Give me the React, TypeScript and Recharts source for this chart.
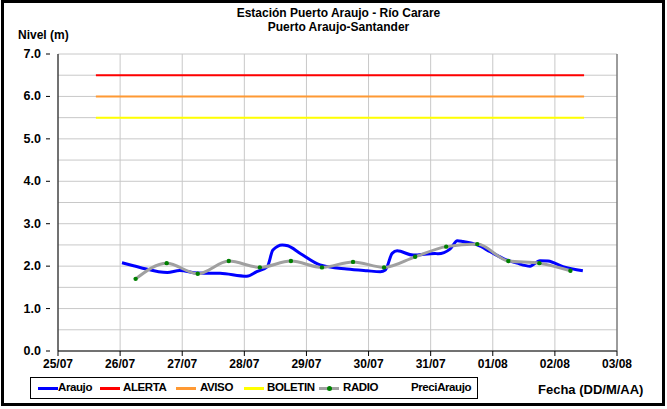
import { LineChart, Line, XAxis, YAxis, CartesianGrid } from 'recharts'

// x values are days counted from 25/07 00:00
const dayLabels = ['25/07', '26/07', '27/07', '28/07', '29/07', '30/07', '31/07', '01/08', '02/08', '03/08']
const levelTicks = [0, 0.5, 1, 1.5, 2, 2.5, 3, 3.5, 4, 4.5, 5, 5.5, 6, 6.5, 7]

const araujoDays = [
  1.03, 1.32, 1.76, 1.96, 2.24, 2.61, 3.04, 3.2, 3.37, 3.46, 3.61, 3.7, 3.9, 4.22, 4.65, 4.98,
  5.19, 5.27, 5.38, 5.46, 5.72, 6.07, 6.12, 6.31, 6.43, 6.52, 6.75, 6.96, 7.17, 7.39, 7.6, 7.76,
  7.89, 8.13, 8.45,
]
const araujoLevels = [
  2.08, 1.97, 1.85, 1.9, 1.84, 1.83, 1.76, 1.87, 1.99, 2.38, 2.5, 2.48, 2.3, 2.03, 1.93, 1.89,
  1.87, 1.91, 2.3, 2.36, 2.26, 2.3, 2.29, 2.4, 2.6, 2.58, 2.5, 2.34, 2.18, 2.07, 2.0, 2.13,
  2.12, 1.99, 1.89,
]

const radioDays = [1.25, 1.75, 2.25, 2.75, 3.25, 3.75, 4.25, 4.75, 5.25, 5.75, 6.25, 6.75, 7.25, 7.75, 8.25]
const radioLevels = [1.7, 2.07, 1.82, 2.12, 1.97, 2.12, 1.97, 2.1, 1.97, 2.22, 2.46, 2.52, 2.12, 2.07, 1.89]

const thresholdNames = ['ALERTA', 'AVISO', 'BOLETIN']
const thresholdLevels = [6.5, 6.0, 5.5]
const thresholdColors = ['#ff0000', '#ff9933', '#ffff00']
const thresholdSpan = [0.61, 8.47]

const araujoData = araujoDays.map((x, i) => ({ x, y: araujoLevels[i] }))
const radioData = radioDays.map((x, i) => ({ x, y: radioLevels[i] }))

const font = '"Liberation Sans", Arial, sans-serif'

function LevelTick(props: any) {
  const { x, y, payload } = props
  if (payload.value % 1 !== 0) return <g />
  return (
    <g>
      <line x1={x - 4} x2={x} y1={y} y2={y} stroke="#000" />
      <text x={x - 9} y={y + 4} textAnchor="end" fontSize={12.5} fontWeight="bold" fontFamily={font} fill="#000">
        {payload.value.toFixed(1)}
      </text>
    </g>
  )
}

function LegendBox() {
  const items = [
    { name: 'Araujo', color: '#0000ff', line: 38, text: 58 },
    { name: thresholdNames[0], color: thresholdColors[0], line: 100, text: 123 },
    { name: thresholdNames[1], color: thresholdColors[1], line: 176, text: 200 },
    { name: thresholdNames[2], color: thresholdColors[2], line: 244, text: 267 },
    { name: 'RADIO', color: '#a0a0a0', line: 319, text: 343, dot: true },
    { name: 'PreciAraujo', color: 'none', line: 0, text: 411 },
  ]
  return (
    <div style={{ position: 'absolute', left: 30, top: 377, width: 448, height: 22, border: '1px solid #000', boxSizing: 'border-box', background: '#fff' }}>
      {items.map((it) => (
        <div key={it.name}>
          {it.color !== 'none' && (
            <div style={{ position: 'absolute', left: it.line - 31, top: 9, width: 20, height: 3, background: it.color }} />
          )}
          {it.dot && (
            <div style={{ position: 'absolute', left: it.line - 31 + 8, top: 8, width: 5, height: 5, borderRadius: 3, background: '#008000' }} />
          )}
          <div style={{ position: 'absolute', left: it.text - 31, top: 3, fontSize: 11.5, fontWeight: 'bold', fontFamily: font, whiteSpace: 'nowrap', letterSpacing: -0.4 }}>
            {it.name}
          </div>
        </div>
      ))}
    </div>
  )
}

export default function App() {
  return (
    <div style={{ position: 'absolute', left: 0, top: 0, width: 667, height: 409, background: '#fff', fontFamily: font }}>
      <div style={{ position: 'absolute', left: 1, top: 0, width: 664, height: 406, border: '3px solid #000', boxSizing: 'border-box' }} />
      <div style={{ position: 'absolute', left: 0, top: 6, width: 677, textAlign: 'center', fontSize: 12, fontWeight: 'bold', lineHeight: '14px' }}>
        Estación Puerto Araujo - Río Carare
        <br />
        Puerto Araujo-Santander
      </div>
      <div style={{ position: 'absolute', left: 18, top: 28, fontSize: 12, fontWeight: 'bold' }}>Nivel (m)</div>
      <div style={{ position: 'absolute', left: 538, top: 382, fontSize: 13, fontWeight: 'bold' }}>Fecha (DD/M/AA)</div>
      <div style={{ position: 'absolute', left: 0, top: 0 }}>
        <LineChart width={667} height={409} margin={{ top: 54, right: 0, left: 0, bottom: 0 }}>
          <CartesianGrid yAxisId="left" stroke="#c8c8c8" strokeWidth={1} />
          <XAxis
            dataKey="x"
            type="number"
            domain={[0, 9]}
            ticks={[0, 1, 2, 3, 4, 5, 6, 7, 8, 9]}
            tickFormatter={(v: number) => dayLabels[v]}
            height={58}
            stroke="#000"
            tickSize={5}
            tickMargin={3}
            tick={{ fontSize: 12, fontWeight: 'bold', fill: '#000', fontFamily: font }}
            allowDataOverflow
          />
          <YAxis
            yAxisId="left"
            domain={[0, 7]}
            ticks={levelTicks}
            width={58}
            stroke="#000"
            tickLine={false}
            tick={<LevelTick />}
            interval={0}
          />
          <YAxis
            yAxisId="right"
            orientation="right"
            domain={[0, 1]}
            ticks={[0]}
            reversed
            width={50}
            stroke="#555"
            tickSize={4}
            tickMargin={10}
            tick={{ fontSize: 12.5, fontWeight: 'bold', fill: '#000', fontFamily: font }}
          />
          {thresholdNames.map((name, i) => (
            <Line
              key={name}
              yAxisId="left"
              data={thresholdSpan.map((x) => ({ x, y: thresholdLevels[i] }))}
              dataKey="y"
              stroke={thresholdColors[i]}
              strokeWidth={2}
              dot={false}
              isAnimationActive={false}
            />
          ))}
          <Line
            yAxisId="left"
            data={araujoData}
            dataKey="y"
            type="monotone"
            stroke="#0000ff"
            strokeWidth={3}
            dot={false}
            isAnimationActive={false}
          />
          <Line
            yAxisId="left"
            data={radioData}
            dataKey="y"
            type="monotone"
            stroke="#a0a0a0"
            strokeWidth={3}
            dot={{ r: 2.2, fill: '#008000', stroke: '#008000', strokeWidth: 0 }}
            isAnimationActive={false}
          />
        </LineChart>
      </div>
      <LegendBox />
    </div>
  )
}
